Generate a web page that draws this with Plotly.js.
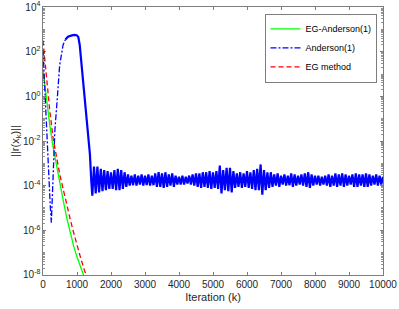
<!DOCTYPE html>
<html>
<head>
<meta charset="utf-8">
<script src="https://cdn.plot.ly/plotly-3.0.1.min.js"></script>
<style>html,body{margin:0;padding:0;background:#fff;}#chart{width:399px;height:309px;}</style>
</head>
<body>
<div id="chart"></div>
<script>
// ---- Data (y stored as log10 of ||r(x_k)||) ----
var egAndersonIter = [0, 100, 200, 300, 400, 500, 600, 700, 800, 900, 1000, 1100, 1200, 1300];
var egAndersonLog10 = [1.2, -0.2, -1.3, -2.3, -3.15, -3.95, -4.7, -5.45, -6.1, -6.7, -7.2, -7.65, -8.05, -8.45];

var egMethodIter = [0, 100, 200, 300, 400, 500, 600, 700, 800, 900, 1000, 1100, 1200, 1300, 1400];
var egMethodLog10 = [2.5, 0.75, -0.65, -1.9, -2.8, -3.55, -4.2, -4.9, -5.5, -6.1, -6.7, -7.2, -7.7, -8.2, -8.6];

// Anderson(1): early transient (dash-dot part)
var andersonEarlyIter = [0, 60, 110, 160, 210, 245, 270, 300, 330, 350, 420, 490, 590, 660];
var andersonEarlyLog10 = [2.1, 0.0, -1.5, -3.2, -4.8, -5.66, -4.8, -3.3, -2.1, -1.5, -0.1, 1.4, 2.3, 2.55];

// Anderson(1): plateau, collapse and oscillating tail
var andersonLateIter = [660, 735, 850, 930, 1000, 1040, 1080, 1175, 1275, 1330, 1380, 1420,
  1450, 1500, 1550, 1600, 1650, 1700, 1750, 1800, 1850, 1900, 1950,
  2000, 2050, 2100, 2150, 2200, 2250, 2300, 2350, 2400, 2450,
  2500, 2550, 2600, 2650, 2700, 2750, 2800, 2850, 2900, 2950,
  3000, 3050, 3100, 3150, 3200, 3250, 3300, 3350, 3400, 3450,
  3500, 3550, 3600, 3650, 3700, 3750, 3800, 3850, 3900, 3950,
  4000, 4050, 4100, 4150, 4200, 4250, 4300, 4350, 4400, 4450,
  4500, 4550, 4600, 4650, 4700, 4750, 4800, 4850, 4900, 4950,
  5000, 5050, 5100, 5150, 5200, 5250, 5300, 5350, 5400, 5450,
  5500, 5550, 5600, 5650, 5700, 5750, 5800, 5850, 5900, 5950,
  6000, 6050, 6100, 6150, 6200, 6250, 6300, 6350, 6400, 6450,
  6500, 6550, 6600, 6650, 6700, 6750, 6800, 6850, 6900, 6950,
  7000, 7050, 7100, 7150, 7200, 7250, 7300, 7350, 7400, 7450,
  7500, 7550, 7600, 7650, 7700, 7750, 7800, 7850, 7900, 7950,
  8000, 8050, 8100, 8150, 8200, 8250, 8300, 8350, 8400, 8450,
  8500, 8550, 8600, 8650, 8700, 8750, 8800, 8850, 8900, 8950,
  9000, 9050, 9100, 9150, 9200, 9250, 9300, 9350, 9400, 9450,
  9500, 9550, 9600, 9650, 9700, 9750, 9800, 9850, 9900, 9950,
  10000];
var andersonLateLog10 = [2.55, 2.67, 2.73, 2.75, 2.73, 2.65, 2.3, 0.66, -0.8, -1.7, -2.6, -3.8,
  -4.45, -3.15, -4.35, -3.15, -4.3, -3.25, -4.25, -3.3, -4.2, -3.35, -4.15,
  -3.4, -4.15, -3.3, -4.2, -3.25, -4.2, -3.3, -4.15, -3.4, -4.05,
  -3.5, -4.0, -3.55, -3.98, -3.5, -4.0, -3.55, -3.95, -3.5, -4.0,
  -3.55, -3.97, -3.5, -4.0, -3.55, -3.98, -3.45, -4.05, -3.4, -4.05,
  -3.45, -4.1, -3.4, -4.05, -3.5, -4.0, -3.45, -4.05, -3.55, -3.95,
  -3.6, -3.95, -3.55, -3.95, -3.6, -3.9, -3.55, -3.95, -3.5, -4.0,
  -3.45, -4.05, -3.45, -4.1, -3.4, -4.05, -3.4, -4.1, -3.35, -4.15,
  -3.4, -4.1, -3.35, -4.15, -3.1, -4.35, -3.3, -4.2, -3.2, -4.25,
  -3.2, -4.3, -3.35, -4.1, -3.45, -4.05, -3.4, -4.1, -3.45, -4.05,
  -3.35, -4.1, -3.4, -4.15, -3.3, -4.2, -3.25, -4.2, -3.05, -4.4,
  -3.3, -4.2, -3.4, -4.1, -3.4, -4.05, -3.5, -4.0, -3.45, -4.05,
  -3.55, -3.95, -3.5, -4.0, -3.55, -3.98, -3.45, -4.05, -3.5, -4.0,
  -3.55, -3.95, -3.5, -4.0, -3.45, -4.05, -3.4, -4.1, -3.5, -4.0,
  -3.55, -3.95, -3.55, -4.0, -3.6, -3.95, -3.55, -4.0, -3.5, -4.05,
  -3.55, -4.0, -3.45, -4.05, -3.5, -4.0, -3.45, -4.05, -3.5, -4.0,
  -3.55, -3.95, -3.5, -4.05, -3.45, -4.05, -3.5, -4.0, -3.5, -4.05,
  -3.45, -4.05, -3.5, -4.0, -3.55, -3.95, -3.5, -4.0, -3.55, -3.95,
  -3.6];

var xTickVals = [0, 1000, 2000, 3000, 4000, 5000, 6000, 7000, 8000, 9000, 10000];
var xTickText = ['0', '1000', '2000', '3000', '4000', '5000', '6000', '7000', '8000', '9000', '10000'];
var yTickExponents = [-8, -6, -4, -2, 0, 2, 4];
var seriesNames = ['EG-Anderson(1)', 'Anderson(1)', 'EG method'];

// ---- Build ----
function pow10(arr) { return arr.map(function (v) { return Math.pow(10, v); }); }

var yTickVals = yTickExponents.map(function (e) { return Math.pow(10, e); });
var yTickText = yTickExponents.map(function (e) { return '10<sup>' + e + '</sup>'; });
var yMinor = [];
for (var d = -8; d < 4; d++) { for (var m = 2; m <= 9; m++) yMinor.push(m * Math.pow(10, d)); }
for (var d2 = -7; d2 < 4; d2 += 2) yMinor.push(Math.pow(10, d2));

var axisColor = '#262626';
var traces = [
  { x: egAndersonIter, y: pow10(egAndersonLog10), name: seriesNames[0], mode: 'lines',
    line: { color: '#00ff00', width: 1.3 } },
  { x: andersonEarlyIter, y: pow10(andersonEarlyLog10), name: seriesNames[1], mode: 'lines',
    line: { color: '#0000ff', width: 1.3, dash: '6px,2px,2px,2px' } },
  { x: andersonLateIter, y: pow10(andersonLateLog10), name: seriesNames[1], mode: 'lines',
    showlegend: false, line: { color: '#0000ff', width: 2.2 } },
  { x: egMethodIter, y: pow10(egMethodLog10), name: seriesNames[2], mode: 'lines',
    line: { color: '#ff0000', width: 1.3, dash: '5px,3px' } }
];

var layout = {
  width: 399, height: 309,
  margin: { l: 43, r: 16, t: 7, b: 34 },
  paper_bgcolor: '#ffffff', plot_bgcolor: '#ffffff',
  font: { family: 'Liberation Sans, Arial, sans-serif', size: 10, color: axisColor },
  showlegend: true,
  legend: {
    x: 0.982, y: 0.975, xanchor: 'right', yanchor: 'top',
    bgcolor: '#ffffff', bordercolor: axisColor, borderwidth: 0.6,
    font: { size: 9, color: '#000000' }, itemwidth: 30,
    traceorder: 'normal'
  },
  xaxis: {
    range: [0, 10000], tickmode: 'array', tickvals: xTickVals, ticktext: xTickText,
    ticks: 'inside', ticklen: 3, tickcolor: axisColor, tickwidth: 0.6,
    showline: true, linecolor: axisColor, linewidth: 0.6, mirror: 'ticks',
    showgrid: false, zeroline: false, ticklabeloverflow: 'allow',
    tickfont: { size: 10, color: axisColor },
    title: { text: 'Iteration (k)', font: { size: 11, color: axisColor }, standoff: 4 }
  },
  yaxis: {
    type: 'log', range: [-8.003, 4.003], tickmode: 'array', tickvals: yTickVals, ticktext: yTickText,
    ticks: 'inside', ticklen: 3, tickcolor: axisColor, tickwidth: 0.6,
    minor: { tickmode: 'array', tickvals: yMinor, ticks: 'inside', ticklen: 1.8, tickcolor: axisColor, tickwidth: 0.5 },
    showline: true, linecolor: axisColor, linewidth: 0.6, mirror: 'ticks',
    showgrid: false, zeroline: false, ticklabeloverflow: 'allow',
    tickfont: { size: 10, color: axisColor },
    title: { text: '||r(x<sub>k</sub>)||', font: { size: 11, color: axisColor }, standoff: 0 }
  }
};

Plotly.newPlot('chart', traces, layout, { staticPlot: true, displayModeBar: false });
</script>
</body>
</html>
